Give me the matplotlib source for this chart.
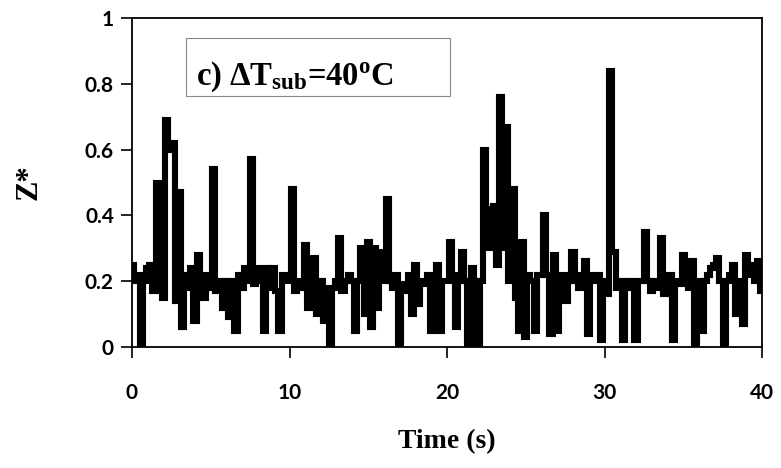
import matplotlib
matplotlib.use("Agg")
import matplotlib.pyplot as plt
import numpy as np
from matplotlib.patches import Rectangle

# Time step 0.2 s, 0..40 s
time_s = [round(0.2 * i, 1) for i in range(201)]
z_star = [
    0.25, 0.20, 0.22, 0.01, 0.20,
    0.24, 0.25, 0.17, 0.50, 0.20,
    0.15, 0.69, 0.60, 0.62, 0.14,
    0.47, 0.06, 0.22, 0.18, 0.24,
    0.08, 0.28, 0.20, 0.15, 0.22,
    0.18, 0.54, 0.17, 0.20, 0.12,
    0.20, 0.09, 0.20, 0.05, 0.22,
    0.18, 0.24, 0.20, 0.57, 0.19,
    0.24, 0.20, 0.05, 0.24, 0.18,
    0.24, 0.17, 0.05, 0.22, 0.20,
    0.20, 0.48, 0.17, 0.20, 0.18,
    0.31, 0.12, 0.22, 0.27, 0.10,
    0.20, 0.08, 0.18, 0.01, 0.18,
    0.20, 0.33, 0.17, 0.20, 0.22,
    0.20, 0.05, 0.20, 0.30, 0.10,
    0.32, 0.06, 0.30, 0.12, 0.29,
    0.20, 0.45, 0.20, 0.18, 0.22,
    0.00, 0.19, 0.17, 0.22, 0.10,
    0.25, 0.13, 0.20, 0.19, 0.22,
    0.05, 0.22, 0.25, 0.05, 0.20,
    0.20, 0.32, 0.22, 0.06, 0.20,
    0.29, 0.20, 0.01, 0.24, 0.20,
    0.01, 0.20, 0.60, 0.30, 0.42,
    0.43, 0.25, 0.76, 0.30, 0.67,
    0.20, 0.48, 0.15, 0.05, 0.32,
    0.03, 0.22, 0.20, 0.05, 0.22,
    0.22, 0.40, 0.22, 0.04, 0.28,
    0.05, 0.20, 0.22, 0.14, 0.20,
    0.29, 0.20, 0.18, 0.22, 0.26,
    0.04, 0.22, 0.20, 0.22, 0.02,
    0.20, 0.16, 0.84, 0.29, 0.18,
    0.20, 0.02, 0.20, 0.18, 0.20,
    0.02, 0.20, 0.20, 0.35, 0.20,
    0.17, 0.20, 0.18, 0.33, 0.16,
    0.20, 0.22, 0.02, 0.20, 0.19,
    0.28, 0.20, 0.18, 0.26, 0.00,
    0.20, 0.05, 0.20, 0.22, 0.24,
    0.25, 0.27, 0.20, 0.00, 0.20,
    0.22, 0.25, 0.10, 0.20, 0.07,
    0.28, 0.25, 0.22, 0.20, 0.26, 0.17,
]
x_ticks = [0, 10, 20, 30, 40]
y_ticks = [0, 0.2, 0.4, 0.6, 0.8, 1]
y_tick_labels = ["0", "0.2", "0.4", "0.6", "0.8", "1"]

plt.rcParams['mathtext.fontset'] = 'custom'
plt.rcParams['mathtext.rm'] = 'Liberation Serif:bold'
plt.rcParams['mathtext.it'] = 'Liberation Serif:bold'
plt.rcParams['mathtext.bf'] = 'Liberation Serif:bold'

fig = plt.figure(figsize=(7.81, 4.68), dpi=100)
ax = fig.add_axes([132/781, 1 - 347/468, 630/781, 329/468])

ax.plot(time_s, z_star, color='black', linewidth=4.4,
        drawstyle='steps-mid', solid_joinstyle='miter', clip_on=True)

ax.set_xlim(0, 40)
ax.set_ylim(0, 1)
ax.set_xticks(x_ticks)
ax.set_yticks(y_ticks)
ax.set_yticklabels(y_tick_labels)

for s in ax.spines.values():
    s.set_linewidth(1.3)
    s.set_color('black')

ax.tick_params(axis='x', direction='out', length=8, width=1.2, pad=18)
ax.tick_params(axis='y', direction='out', length=8, width=1.2, pad=5)
for lab in ax.get_xticklabels() + ax.get_yticklabels():
    lab.set_fontfamily('Lato')
    lab.set_fontweight('bold')
    lab.set_fontsize(15)

ax.set_xlabel('Time (s)', fontfamily='Liberation Serif', fontweight='bold',
              fontsize=20, labelpad=19)
ax.set_ylabel('Z*', fontfamily='Liberation Serif', fontweight='bold',
              fontsize=22, labelpad=30)

rect = Rectangle((0.0857, 0.763), 0.4190, 0.176, transform=ax.transAxes,
                 fill=False, edgecolor='#888888', linewidth=0.8)
ax.add_patch(rect)
ax.text(0.102, 0.796, r'c) ΔT$_{sub}$=40$^{o}$C', transform=ax.transAxes,
        fontfamily='Liberation Serif', fontweight='bold', fontsize=23.5,
        va='baseline', ha='left')

fig.savefig('out.png', dpi=100)
